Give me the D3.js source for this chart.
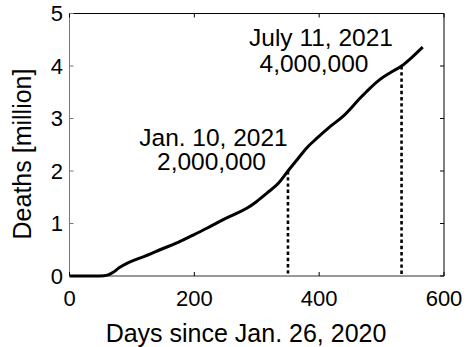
<!DOCTYPE html>
<html>
<head>
<meta charset="utf-8">
<script src="https://cdn.jsdelivr.net/npm/d3@7"></script>
<style>
  html, body { margin: 0; padding: 0; background: #fff; }
  svg { display: block; font-family: "Liberation Sans", Arial, sans-serif; }
</style>
</head>
<body>
<svg id="chart" width="467" height="347"></svg>
<script>
// Cumulative global deaths (millions) by days since Jan. 26, 2020
const days   = [0, 20, 40, 55, 62, 70, 80, 92, 110, 130, 145, 170, 198, 220, 244, 265, 284, 300, 316, 335, 350, 365, 380, 396, 417, 439, 465, 480, 497, 515, 532, 550, 566];
const deaths = [0, 0, 0.001, 0.005, 0.02, 0.07, 0.16, 0.24, 0.33, 0.42, 0.50, 0.62, 0.78, 0.91, 1.06, 1.18, 1.29, 1.42, 1.575, 1.77, 2.0, 2.22, 2.44, 2.62, 2.84, 3.05, 3.38, 3.56, 3.74, 3.88, 4.0, 4.18, 4.36];

// Milestones marked with dotted drop lines
const milestoneDays   = [350, 532];
const milestoneValues = [2, 4];
const milestoneDates  = ["Jan. 10, 2021", "July 11, 2021"];
const milestoneCounts = ["2,000,000", "4,000,000"];

const xTicks = [0, 200, 400, 600];
const yTicks = [0, 1, 2, 3, 4, 5];

const svg = d3.select("#chart");
const plotL = 69.5, plotR = 444, plotT = 13.5, plotB = 276;

const x = d3.scaleLinear().domain([0, 600]).range([plotL, plotR]);
const y = d3.scaleLinear().domain([0, 5]).range([plotB, plotT]);

// Box: left/bottom axes slightly lighter, top/right black
const axisG = svg.append("g");
axisG.append("line").attr("x1", plotL).attr("x2", plotL).attr("y1", plotT).attr("y2", plotB)
  .attr("stroke", "#777").attr("stroke-width", 1);
axisG.append("line").attr("x1", plotL).attr("x2", plotR).attr("y1", plotB).attr("y2", plotB)
  .attr("stroke", "#333").attr("stroke-width", 1);
axisG.append("line").attr("x1", plotL).attr("x2", plotR).attr("y1", plotT).attr("y2", plotT)
  .attr("stroke", "#000").attr("stroke-width", 1);
axisG.append("line").attr("x1", plotR).attr("x2", plotR).attr("y1", plotT).attr("y2", plotB)
  .attr("stroke", "#000").attr("stroke-width", 1);

// Inward ticks on all four sides
const tl = 4;
xTicks.forEach(t => {
  axisG.append("line").attr("x1", x(t)).attr("x2", x(t)).attr("y1", plotB).attr("y2", plotB - tl).attr("stroke", "#000");
  axisG.append("line").attr("x1", x(t)).attr("x2", x(t)).attr("y1", plotT).attr("y2", plotT + tl).attr("stroke", "#000");
});
yTicks.forEach(t => {
  axisG.append("line").attr("x1", plotL).attr("x2", plotL + tl).attr("y1", y(t)).attr("y2", y(t)).attr("stroke", "#777");
  axisG.append("line").attr("x1", plotR).attr("x2", plotR - tl).attr("y1", y(t)).attr("y2", y(t)).attr("stroke", "#000");
});

// Tick labels
svg.append("g").selectAll("text").data(xTicks).join("text")
  .attr("x", d => x(d)).attr("y", 306)
  .attr("text-anchor", "middle").attr("font-size", 22).attr("fill", "#000")
  .text(d => d);
svg.append("g").selectAll("text").data(yTicks).join("text")
  .attr("x", 63).attr("y", d => y(d)).attr("dy", "0.36em")
  .attr("text-anchor", "end").attr("font-size", 22).attr("fill", "#000")
  .text(d => d);

// Axis titles
svg.append("text").attr("x", 246).attr("y", 341.5)
  .attr("text-anchor", "middle").attr("font-size", 25).attr("fill", "#000")
  .text("Days since Jan. 26, 2020");
svg.append("text").attr("transform", "translate(31,154) rotate(-90)")
  .attr("text-anchor", "middle").attr("font-size", 25).attr("fill", "#000")
  .text("Deaths [million]");

// Dotted drop lines from milestones to the x-axis
svg.append("g").selectAll("line").data(milestoneDays).join("line")
  .attr("x1", d => x(d)).attr("x2", d => x(d))
  .attr("y1", (d, i) => y(milestoneValues[i])).attr("y2", plotB)
  .attr("stroke", "#000").attr("stroke-width", 2.6).attr("stroke-dasharray", "3.4,2.8");

// Death curve
const pts = days.map((d, i) => [d, deaths[i]]);
svg.append("path").datum(pts)
  .attr("d", d3.line().x(d => x(d[0])).y(d => y(d[1])).curve(d3.curveMonotoneX))
  .attr("fill", "none").attr("stroke", "#000").attr("stroke-width", 3)
  .attr("stroke-linejoin", "round").attr("stroke-linecap", "butt");

// Milestone annotations (two centred lines each)
const ann = [
  { date: [213.5, 145.5], count: [211.5, 170] },
  { date: [321, 46],   count: [314, 71.5] }
];
ann.forEach((a, i) => {
  svg.append("text").attr("x", a.date[0]).attr("y", a.date[1])
    .attr("text-anchor", "middle").attr("font-size", 24.5).attr("fill", "#000")
    .text(milestoneDates[i]);
  svg.append("text").attr("x", a.count[0]).attr("y", a.count[1])
    .attr("text-anchor", "middle").attr("font-size", 24.5).attr("fill", "#000")
    .text(milestoneCounts[i]);
});
</script>
</body>
</html>
